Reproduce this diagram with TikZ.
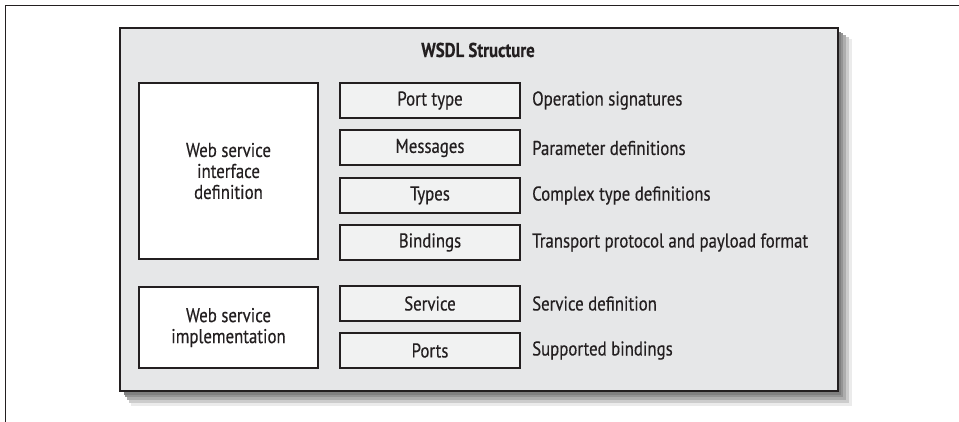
\documentclass[tikz,border=0pt]{standalone}
\usepackage{fontspec}
\setmainfont{PT Sans}[FakeStretch=0.84, FakeBold=0.35]
\definecolor{ink}{HTML}{231F20}
\definecolor{panel}{HTML}{E6E7E8}
\definecolor{cell}{HTML}{F1F2F2}
\begin{document}
\begin{tikzpicture}[x=1pt,y=-1pt,
  txt/.style={font=\fontsize{20}{21}\selectfont, text=ink},
  cellbox/.style={draw=ink, line width=2pt, fill=cell, minimum width=180pt, minimum height=35pt, inner sep=0pt, anchor=north west, txt},
  bigbox/.style={draw=ink, line width=2pt, fill=white, minimum width=179pt, inner sep=0pt, anchor=north west, align=center, txt},
  desc/.style={anchor=west, inner sep=0pt, txt}]
\useasboundingbox (0,0) rectangle (959,422);
\fill[white] (0,0) rectangle (959,422);
% page frame
\draw[ink, line width=1.3pt] (5.5,422) -- (5.5,5.5) -- (959,5.5);
% shadow
\fill[black!8]  (131,39) rectangle (852,406);
\fill[black!20] (129,37) rectangle (849,403);
\fill[black!32] (127,35) rectangle (846,400);
\fill[black!42] (125,33) rectangle (843,397);
\fill[black!50] (124,32) rectangle (841,395);
% panel
\node[draw=ink, line width=2pt, fill=panel, minimum width=718pt, minimum height=363pt, inner sep=0pt, anchor=north west] (panel) at (119,27) {};
\node[txt, font=\fontsize{20}{21}\selectfont\bfseries] (title) at (478,50) {WSDL Structure};
% left boxes
\node[bigbox, minimum height=176pt] (iface) at (138,82) {Web service\\interface\\definition};
\node[bigbox, minimum height=81pt] (impl) at (138,286) {Web service\\implementation};
% cells
\node[cellbox] (pt) at (339,82) {Port type};
\node[cellbox] (msg) at (339,129.5) {Messages};
\node[cellbox] (typ) at (339,177) {Types};
\node[cellbox] (bnd) at (339,224) {Bindings};
\node[cellbox] (svc) at (339,285) {Service};
\node[cellbox] (prt) at (339,332) {Ports};
% descriptions
\node[desc] (d1) at ([xshift=11pt]pt.east) {Operation signatures};
\node[desc] (d2) at ([xshift=11pt]msg.east) {Parameter definitions};
\node[desc] (d3) at ([xshift=11pt]typ.east) {Complex type definitions};
\node[desc] (d4) at ([xshift=11pt]bnd.east) {Transport protocol and payload format};
\node[desc] (d5) at ([xshift=11pt]svc.east) {Service definition};
\node[desc] (d6) at ([xshift=11pt]prt.east) {Supported bindings};
\end{tikzpicture}
\end{document}
